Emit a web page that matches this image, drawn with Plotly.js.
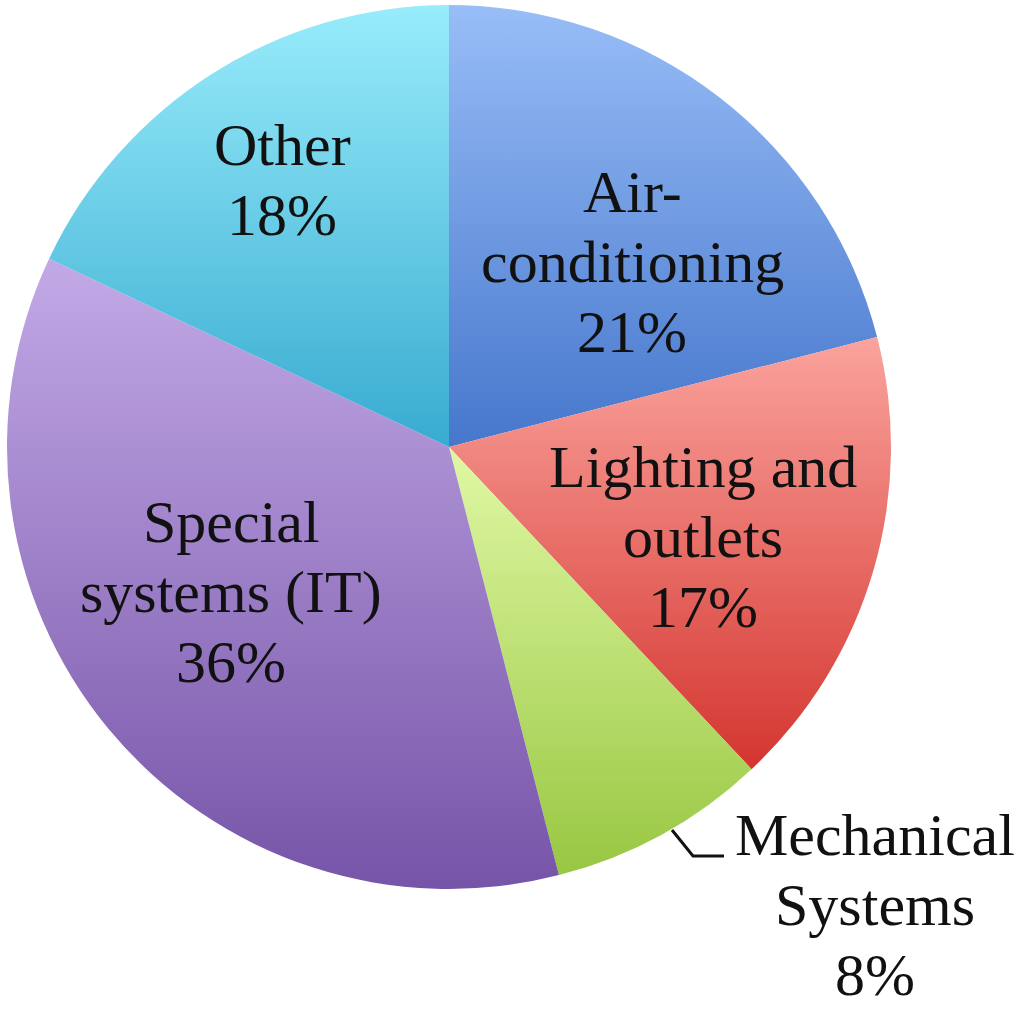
<!DOCTYPE html>
<html>
<head>
<meta charset="utf-8">
<script src="https://cdn.plot.ly/plotly-3.0.1.min.js"></script>
<style>
  html, body { margin: 0; padding: 0; background: #fff; }
  #chart { width: 1024px; height: 1021px; }
</style>
</head>
<body>
<div id="chart"></div>
<script>
const W = 1024, H = 1021;

// slices, clockwise from 12 o'clock
const labels = ["Air-conditioning", "Lighting and outlets", "Mechanical Systems", "Special systems (IT)", "Other"];
const values = [21, 17, 8, 36, 18];
const labelLines = [["Air-", "conditioning"], ["Lighting and", "outlets"], ["Mechanical", "Systems"], ["Special", "systems (IT)"], ["Other"]];

// fill colours (flat fallback + gradient stops)
const colors = ["#6d9be6", "#ee6d68", "#bde37a", "#9c7fcc", "#66cde9"];
const gradTop = ["#98bdf7", "#fba39d", "#e0f8a4", "#c2a9e6", "#98ecfb"];
const gradBottom = ["#4677cc", "#d4352f", "#98c742", "#7654a8", "#38abd0"];

// label block placement in px: center x, first baseline y
const labelPlace = [[632, 212], [703, 487], [875, 855], [231, 542], [282, 165]];
const lineGap = 70;
const fontSize = 60;

const px = x => x / W;
const py = y => 1 - y / H;

const annotations = [];
labels.forEach((name, i) => {
  const lines = labelLines[i].concat([values[i] + "%"]);
  const [cx, b0] = labelPlace[i];
  lines.forEach((t, k) => {
    annotations.push({
      xref: "paper", yref: "paper",
      x: px(cx), y: py(b0 + k * lineGap - 20),
      xanchor: "center", yanchor: "middle",
      text: t, showarrow: false,
      font: { family: "Liberation Serif, serif", size: fontSize, color: "#111" }
    });
  });
});

// leader for the small slice label
const leader = [[672, 830], [693, 856], [724, 856]];
const leaderPath = leader.map((p, k) => (k ? "L" : "M") + px(p[0]) + "," + py(p[1])).join(" ");

const trace = {
  type: "pie",
  labels: labels,
  values: values,
  sort: false,
  direction: "clockwise",
  rotation: 0,
  textinfo: "none",
  hoverinfo: "label+percent",
  marker: { colors: colors, line: { width: 0 } },
  domain: { x: [7 / W, 891 / W], y: [132 / H, 1016 / H] }
};

const layout = {
  width: W, height: H,
  margin: { l: 0, r: 0, t: 0, b: 0 },
  showlegend: false,
  paper_bgcolor: "#fff",
  annotations: annotations,
  shapes: [{
    type: "path", xref: "paper", yref: "paper",
    path: leaderPath,
    line: { color: "#111", width: 3 }
  }]
};

Plotly.newPlot("chart", [trace], layout, { staticPlot: true }).then(gd => {
  // vertical gradient on each slice, like the original
  const svg = gd.querySelector(".main-svg");
  const ns = "http://www.w3.org/2000/svg";
  let defs = svg.querySelector("defs");
  if (!defs) { defs = document.createElementNS(ns, "defs"); svg.insertBefore(defs, svg.firstChild); }
  labels.forEach((_, i) => {
    const g = document.createElementNS(ns, "linearGradient");
    g.setAttribute("id", "sliceGrad" + i);
    g.setAttribute("x1", "0"); g.setAttribute("y1", "0");
    g.setAttribute("x2", "0"); g.setAttribute("y2", "1");
    [[0, gradTop[i]], [1, gradBottom[i]]].forEach(([o, c]) => {
      const s = document.createElementNS(ns, "stop");
      s.setAttribute("offset", o);
      s.setAttribute("stop-color", c);
      g.appendChild(s);
    });
    defs.appendChild(g);
  });
  gd.querySelectorAll(".slice path.surface").forEach((p, i) => {
    p.style.fill = "url(#sliceGrad" + i + ")";
  });
});
</script>
</body>
</html>
